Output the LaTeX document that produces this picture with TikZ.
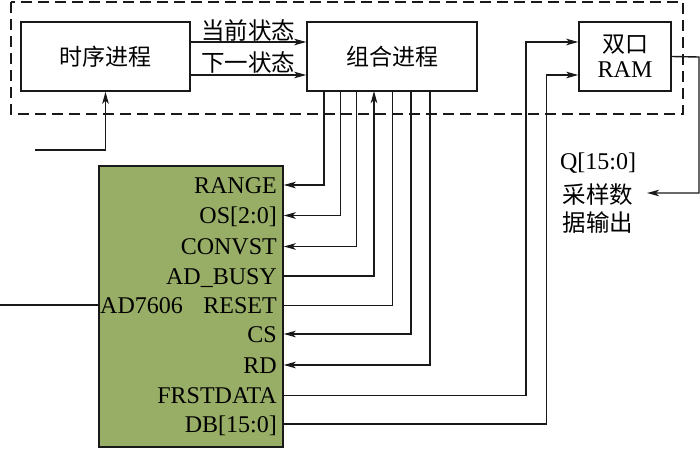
\documentclass[tikz,border=0pt]{standalone}
\usepackage{fontspec}
\setmainfont{Liberation Serif}
\newfontfamily\cjk{Noto Sans CJK SC}
\newfontfamily\serifr{Liberation Serif}
\usetikzlibrary{arrows.meta}
\definecolor{adgreen}{RGB}{152,173,101}
\definecolor{ln}{RGB}{25,25,25}
\tikzset{
  box/.style={draw=ln, line width=1.4pt, minimum height=69pt, inner sep=0pt, font=\fontsize{23}{26}\selectfont\cjk},
  arr/.style={draw=ln, line width=1.4pt, -{Stealth[length=12pt,width=6.5pt,inset=3pt]}},
  wire/.style={draw=ln, line width=1.4pt},
  pinlbl/.style={anchor=east, inner sep=0pt, text height=16pt, text depth=0pt, font=\fontsize{24}{26}\selectfont\serifr},
  cjklbl/.style={inner sep=0pt, font=\fontsize{23.5}{26}\selectfont\cjk},
  serlbl/.style={inner sep=0pt, font=\fontsize{24}{26}\selectfont\serifr}
}
\begin{document}
\begin{tikzpicture}[x=1pt,y=-1pt]
\useasboundingbox (0,0) rectangle (700,449);
% dashed frame
\draw[ln, line width=1.4pt, dash pattern=on 11pt off 6pt] (11,2) rectangle (683,114);
% boxes
\node[box, minimum width=169pt] (sx) at (105.5,56.5) {时序进程};
\node[box, minimum width=170pt] (zh) at (392,56.5) {组合进程};
\node[box, minimum width=92pt, align=center] (ram) at (625,56.5) {双口\\[-1pt]{\serifr\fontsize{24}{26}\selectfont RAM}};
\node[draw=ln, fill=adgreen, line width=1.4pt, minimum width=184pt, minimum height=281pt, inner sep=0pt] (ad) at (191,306.5) {};
% state arrows
\draw[arr] ([yshift=14.5pt]sx.east) -- ([yshift=14.5pt]zh.west);
\draw[arr] ([yshift=-18.5pt]sx.east) -- ([yshift=-18.5pt]zh.west);
\node[cjklbl] (cur) at (248,31) {当前状态};
\node[cjklbl] (nxt) at (248,63) {下一状态};
% clock input
\coordinate (clk) at (35,150);
\draw[arr] (clk) -| (sx.south);
% AD7606 label and input
\node[serlbl, anchor=west, text height=16pt, text depth=0pt] (adl) at (100,305) {AD7606};
\coordinate (adin) at (0,305);
\draw[draw=ln, line width=2.4pt] (adin) -- (ad.west |- adin);
% pin labels
\node[pinlbl] (pRANGE) at (277,185) {RANGE};
\node[pinlbl] (pOS) at (277,215.5) {OS[2:0]};
\node[pinlbl] (pCONV) at (277,246.5) {CONVST};
\node[pinlbl] (pBUSY) at (277,276) {AD\_BUSY};
\node[pinlbl] (pRESET) at (277,305.5) {RESET};
\node[pinlbl] (pCS) at (277,334) {CS};
\node[pinlbl] (pRD) at (277,365) {RD};
\node[pinlbl] (pFR) at (277,395.5) {FRSTDATA};
\node[pinlbl] (pDB) at (277,424) {DB[15:0]};
% connections from combinational process
\coordinate (t1) at (324,91);
\coordinate (t2) at (340.5,91);
\coordinate (t3) at (356.5,91);
\coordinate (t4) at (374,91);
\coordinate (t5) at (392.5,91);
\coordinate (t6) at (411,91);
\coordinate (t7) at (430,91);
\draw[arr] (t1) |- (ad.east |- pRANGE);
\draw[arr] (t2) |- (ad.east |- pOS);
\draw[arr] (t3) |- (ad.east |- pCONV);
\draw[arr] (ad.east |- pBUSY) -| (t4);
\draw[wire] (ad.east |- pRESET) -| (t5);
\draw[arr] (t6) |- (ad.east |- pCS);
\draw[arr] (t7) |- (ad.east |- pRD);
% to RAM
\coordinate (r1) at (526,42);
\coordinate (r2) at (546.5,75);
\draw[arr] (ad.east |- pFR) -| (r1) -- (ram.west |- r1);
\draw[arr] (ad.east |- pDB) -| (r2) -- (ram.west |- r2);
% RAM output
\node[serlbl] (q) at (598,163) {Q[15:0]};
\node[cjklbl] (o1) at (598,195) {采样数};
\node[cjklbl] (o2) at (598,223) {据输出};
\coordinate (rc) at (699,57);
\coordinate (oe) at (647,193);
\draw[arr] (ram.east) -- (rc) |- (oe);
\end{tikzpicture}
\end{document}
